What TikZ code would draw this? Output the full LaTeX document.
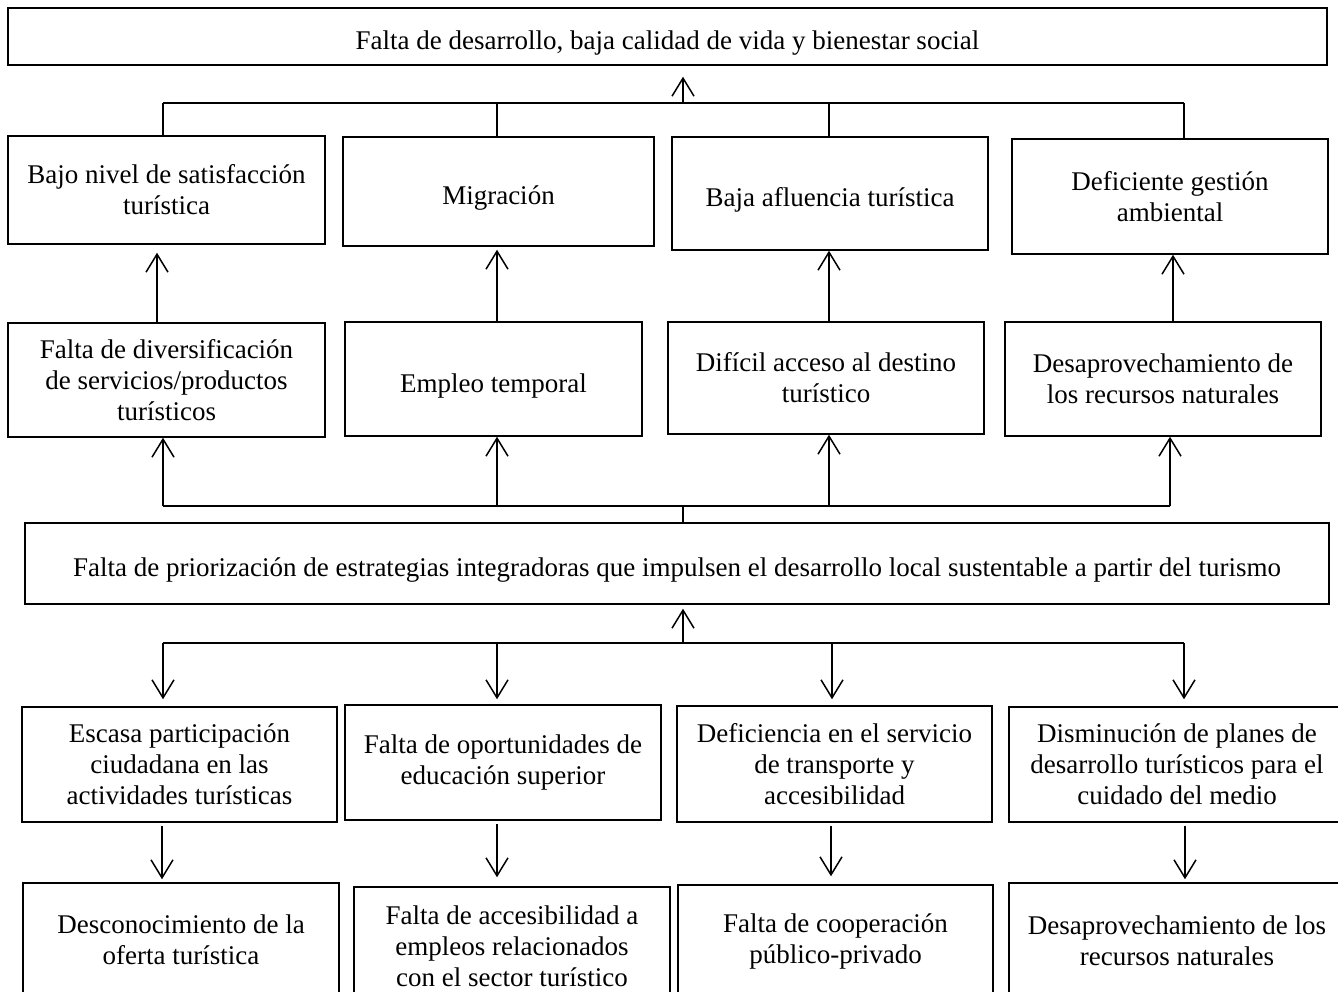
\documentclass[tikz,border=0pt]{standalone}
\usepackage{fontspec}
\setmainfont{Liberation Serif}
\usetikzlibrary{arrows.meta}
\begin{document}
\begin{tikzpicture}[x=1pt,y=-1pt,
  box/.style={draw,line width=1.5pt,inner sep=0pt,align=center,
    font=\fontsize{27}{31}\selectfont},
  single/.style={text height=26pt,text depth=0pt},
  conn/.style={line width=1.5pt},
  arr/.style={line width=1.5pt,-{Straight Barb[length=18pt,width=22pt,line width=1.5pt]}}]
\useasboundingbox (0,0) rectangle (1338,992);
\clip (0,0) rectangle (1338,992);
% top
\node[box,single,minimum width=1319pt,minimum height=57pt] (top) at (667.5,36.5) {Falta de desarrollo, baja calidad de vida y bienestar social};
% row 1 (effects)
\node[box,minimum width=317pt,minimum height=108pt] (B1) at (166.5,190) {Bajo nivel de satisfacción\\turística};
\node[box,single,minimum width=311pt,minimum height=109pt] (B2) at (498.5,191.5) {Migración};
\node[box,single,minimum width=316pt,minimum height=113pt] (B3) at (830,193.5) {Baja afluencia turística};
\node[box,minimum width=316pt,minimum height=115pt] (B4) at (1170,196.5) {Deficiente gestión\\ambiental};
% row 2
\node[box,minimum width=317pt,minimum height=114pt] (C1) at (166.5,380) {Falta de diversificación\\de servicios/productos\\turísticos};
\node[box,single,minimum width=297pt,minimum height=114pt] (C2) at (493.5,379) {Empleo temporal};
\node[box,minimum width=316pt,minimum height=112pt] (C3) at (826,378) {Difícil acceso al destino\\turístico};
\node[box,minimum width=316pt,minimum height=114pt] (C4) at (1163,379) {Desaprovechamiento de\\los recursos naturales};
% central problem
\node[box,single,minimum width=1304pt,minimum height=81pt] (D) at (677,563.5) {Falta de priorización de estrategias integradoras que impulsen el desarrollo local sustentable a partir del turismo};
% row 3 (causes)
\node[box,minimum width=315pt,minimum height=115pt] (E1) at (179.5,764.5) {Escasa participación\\ciudadana en las\\actividades turísticas};
\node[box,minimum width=316pt,minimum height=115pt] (E2) at (503,762.5) {Falta de oportunidades de\\educación superior};
\node[box,minimum width=315pt,minimum height=116pt] (E3) at (834.5,764) {Deficiencia en el servicio\\de transporte y\\accesibilidad};
\node[box,minimum width=336pt,minimum height=115pt] (E4) at (1177,764.5) {Disminución de planes de\\desarrollo turísticos para el\\cuidado del medio};
% row 4
\node[box,minimum width=316pt,minimum height=114pt] (F1) at (181,940) {Desconocimiento de la\\oferta turística};
\node[box,minimum width=316pt,minimum height=118pt] (F2) at (512,946) {Falta de accesibilidad a\\empleos relacionados\\con el sector turístico};
\node[box,minimum width=315pt,minimum height=112pt] (F3) at (835.5,941) {Falta de cooperación\\público-privado};
\node[box,minimum width=336pt,minimum height=116pt] (F4) at (1177,941) {Desaprovechamiento de los\\recursos naturales};
% top bus
\coordinate (tbL) at (163,103);
\coordinate (tbR) at (1184,103);
\coordinate (tbM) at (683,103);
\draw[conn] (tbL) -- (tbR);
\draw[arr,shorten >=11pt] (tbM) -- (tbM |- top.south);
\draw[conn] (163,0 |- B1.north) -- (tbL);
\draw[conn] (497,0 |- B2.north) -- (497,103);
\draw[conn] (829,0 |- B3.north) -- (829,103);
\draw[conn] (1184,0 |- B4.north) -- (tbR);
% row 2 -> row 1
\draw[arr,shorten >=8pt] (157,0 |- C1.north) -- (157,0 |- B1.south);
\draw[arr,shorten >=3pt] (497,0 |- C2.north) -- (497,0 |- B2.south);
\draw[arr] (829,0 |- C3.north) -- (829,0 |- B3.south);
\draw[arr] (1173,0 |- C4.north) -- (1173,0 |- B4.south);
% middle bus
\coordinate (mbL) at (163,506);
\coordinate (mbR) at (1170,506);
\draw[conn] (mbL) -- (mbR);
\draw[conn] (683,0 |- D.north) -- (683,506);
\draw[arr] (mbL) -- (163,0 |- C1.south);
\draw[arr] (497,506) -- (497,0 |- C2.south);
\draw[arr] (829,506) -- (829,0 |- C3.south);
\draw[arr] (mbR) -- (1170,0 |- C4.south);
% lower bus
\coordinate (lbL) at (163,643);
\coordinate (lbR) at (1184,643);
\draw[conn] (lbL) -- (lbR);
\draw[arr,shorten >=4pt] (683,643) -- (683,0 |- D.south);
\draw[arr,shorten >=7pt] (lbL) -- (163,0 |- E1.north);
\draw[arr,shorten >=5pt] (497,643) -- (497,0 |- E2.north);
\draw[arr,shorten >=6pt] (832,643) -- (832,0 |- E3.north);
\draw[arr,shorten >=7pt] (lbR) -- (1184,0 |- E4.north);
% row 3 -> row 4
\draw[arr,shorten <=3pt,shorten >=3pt] (162,0 |- E1.south) -- (162,0 |- F1.north);
\draw[arr,shorten <=3pt,shorten >=9pt] (497,0 |- E2.south) -- (497,0 |- F2.north);
\draw[arr,shorten <=3pt,shorten >=8pt] (831,0 |- E3.south) -- (831,0 |- F3.north);
\draw[arr,shorten <=3pt,shorten >=3pt] (1185,0 |- E4.south) -- (1185,0 |- F4.north);
\end{tikzpicture}
\end{document}
